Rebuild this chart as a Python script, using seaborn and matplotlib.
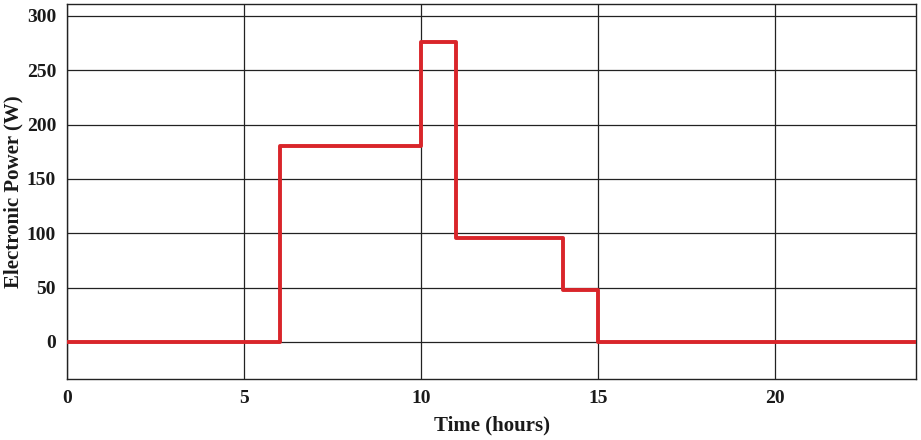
import pandas as pd
import seaborn as sns
import matplotlib.pyplot as plt

# step profile of electronic load over a day
hours = [0, 6, 10, 11, 14, 15, 24]
power_w = [0, 180, 276, 96, 48, 0, 0]

x_ticks = [0, 5, 10, 15, 20]
y_ticks = [0, 50, 100, 150, 200, 250, 300]

sns.set_theme(style="white")
plt.rcParams["font.family"] = ["Liberation Serif", "DejaVu Serif"]
plt.rcParams["font.weight"] = "bold"
plt.rcParams["text.color"] = "#1a1a1a"

df = pd.DataFrame({"Time": hours, "Power": power_w})

fig = plt.figure(figsize=(9.21, 4.4), dpi=100)
ax = fig.add_axes([0.073, 0.139, 0.922, 0.852])

sns.lineplot(data=df, x="Time", y="Power", drawstyle="steps-post",
             color="#d9252a", linewidth=2.8, ax=ax, zorder=3)

ax.set_xlim(0, 24)
ax.set_ylim(-34, 311)
ax.set_xticks(x_ticks)
ax.set_yticks(y_ticks)
ax.grid(True, color="#222222", linewidth=0.9)
ax.tick_params(length=0, labelsize=14, pad=8, labelcolor="#1a1a1a")
for lbl in ax.get_xticklabels() + ax.get_yticklabels():
    lbl.set_fontweight("bold")
for s in ax.spines.values():
    s.set_color("#222222")
    s.set_linewidth(1.0)

ax.set_xlabel("Time (hours)", fontsize=15, fontweight="bold", labelpad=6, color="#1a1a1a")
ax.set_ylabel("Electronic Power (W)", fontsize=15, fontweight="bold", labelpad=2, color="#1a1a1a")

fig.savefig("out.png", dpi=100)
